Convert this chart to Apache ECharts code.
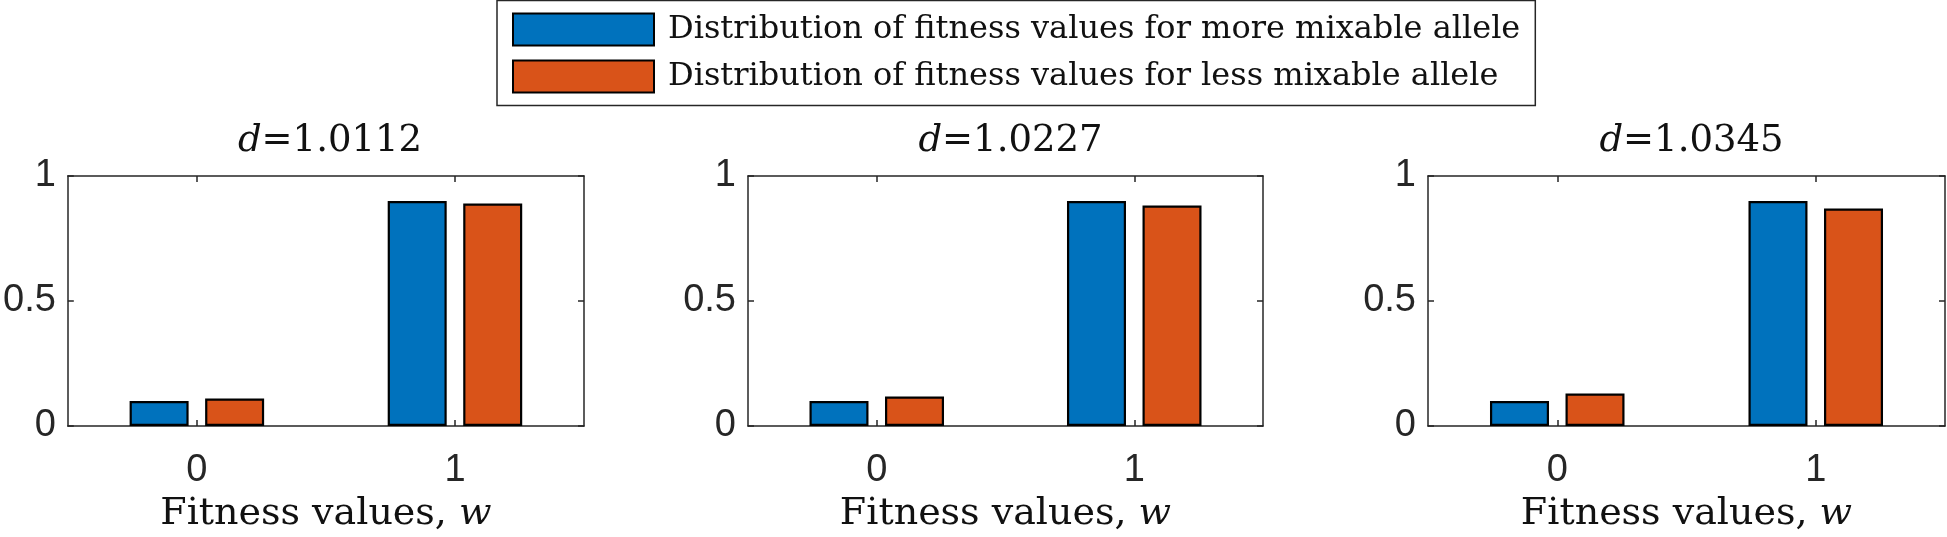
<!DOCTYPE html>
<html>
<head>
<meta charset="utf-8">
<script src="https://cdn.jsdelivr.net/npm/echarts@6/dist/echarts.min.js"></script>
<style>
html,body{margin:0;padding:0;background:#fff;}
#chart{width:1947px;height:537px;}
</style>
</head>
<body>
<div id="chart"></div>
<script>
// ---- data ----
const categories = ['0', '1'];
const dValues = ['1.0112', '1.0227', '1.0345'];
const moreMixable1 = [0.10, 0.90];
const lessMixable1 = [0.11, 0.89];
const moreMixable2 = [0.10, 0.90];
const lessMixable2 = [0.118, 0.882];
const moreMixable3 = [0.10, 0.90];
const lessMixable3 = [0.13, 0.87];
const moreName = 'Distribution of fitness values for more mixable allele';
const lessName = 'Distribution of fitness values for less mixable allele';
const xName = 'Fitness values, ';
const xNameVar = 'w';

const moreSets = [moreMixable1, moreMixable2, moreMixable3];
const lessSets = [lessMixable1, lessMixable2, lessMixable3];

// ---- style / layout ----
const AX = '#262626';
const BLUE = '#0072BD';
const ORANGE = '#D95319';
const SERIF = 'DejaVu Serif';
const SANS = 'Liberation Sans';
const grids = [
  {left: 66, top: 176, width: 518, height: 250},
  {left: 748, top: 176, width: 515, height: 250},
  {left: 1428, top: 176, width: 517, height: 250}
];

const axisLine = {show: true, onZero: false, lineStyle: {color: AX, width: 1.5}};
const xAxes = [], yAxes = [], series = [], titles = [];

grids.forEach((g, i) => {
  xAxes.push({
    gridIndex: i, type: 'category', data: categories, position: 'bottom',
    axisLine: axisLine,
    axisTick: {show: true, inside: true, length: 6, alignWithLabel: true, lineStyle: {color: AX, width: 1.5}},
    axisLabel: {color: AX, fontFamily: SANS, fontSize: 38, margin: 26},
    name: '{n|' + xName + '}{i|' + xNameVar + '}',
    nameLocation: 'middle', nameGap: 69,
    nameTextStyle: {
      rich: {
        n: {fontFamily: SERIF, fontSize: 38, color: '#111'},
        i: {fontFamily: SERIF, fontSize: 38, fontStyle: 'italic', color: '#111'}
      }
    },
    splitLine: {show: false}
  });
  xAxes.push({
    gridIndex: i, type: 'category', data: categories, position: 'top',
    axisLine: axisLine,
    axisTick: {show: true, inside: true, length: 6, alignWithLabel: true, lineStyle: {color: AX, width: 1.5}},
    axisLabel: {show: false},
    splitLine: {show: false}
  });
  yAxes.push({
    gridIndex: i, type: 'value', min: 0, max: 1, interval: 0.5, position: 'left',
    axisLine: axisLine,
    axisTick: {show: true, inside: true, length: 6, lineStyle: {color: AX, width: 1.5}},
    axisLabel: {color: AX, fontFamily: SANS, fontSize: 38, margin: 12},
    splitLine: {show: false}
  });
  yAxes.push({
    gridIndex: i, type: 'value', min: 0, max: 1, interval: 0.5, position: 'right',
    axisLine: axisLine,
    axisTick: {show: true, inside: true, length: 6, lineStyle: {color: AX, width: 1.5}},
    axisLabel: {show: false},
    splitLine: {show: false}
  });
  series.push({
    name: moreName, type: 'bar', xAxisIndex: 2 * i, yAxisIndex: 2 * i,
    data: moreSets[i], barWidth: 59, barGap: '28%',
    itemStyle: {color: BLUE, borderColor: '#000', borderWidth: 2.2},
    emphasis: {disabled: true}, animation: false
  });
  series.push({
    name: lessName, type: 'bar', xAxisIndex: 2 * i, yAxisIndex: 2 * i,
    data: lessSets[i], barWidth: 59, barGap: '28%',
    itemStyle: {color: ORANGE, borderColor: '#000', borderWidth: 2.2},
    emphasis: {disabled: true}, animation: false
  });
  titles.push({
    text: '{i|d}{n|=' + dValues[i] + '}',
    left: g.left + g.width / 2, top: 118, textAlign: 'center',
    textStyle: {
      fontWeight: 'normal',
      rich: {
        i: {fontFamily: SERIF, fontSize: 37, fontStyle: 'italic', fontWeight: 'normal', color: '#111'},
        n: {fontFamily: SERIF, fontSize: 37, fontWeight: 'normal', color: '#111'}
      }
    }
  });
});

const chart = echarts.init(document.getElementById('chart'), null, {renderer: 'canvas'});
chart.setOption({
  animation: false,
  backgroundColor: '#fff',
  title: titles,
  grid: grids,
  xAxis: xAxes,
  yAxis: yAxes,
  legend: {
    orient: 'vertical', left: 497, top: 0.5,
    data: [moreName, lessName],
    icon: 'rect',
    itemWidth: 141, itemHeight: 32, itemGap: 13,
    padding: [12, 15, 12, 15],
    backgroundColor: '#fff', borderColor: AX, borderWidth: 1.5,
    selectedMode: false,
    textStyle: {fontFamily: SERIF, fontSize: 32, color: '#111', lineHeight: 34, padding: [0, 0, 0, 9]}
  },
  series: series
});
</script>
</body>
</html>
